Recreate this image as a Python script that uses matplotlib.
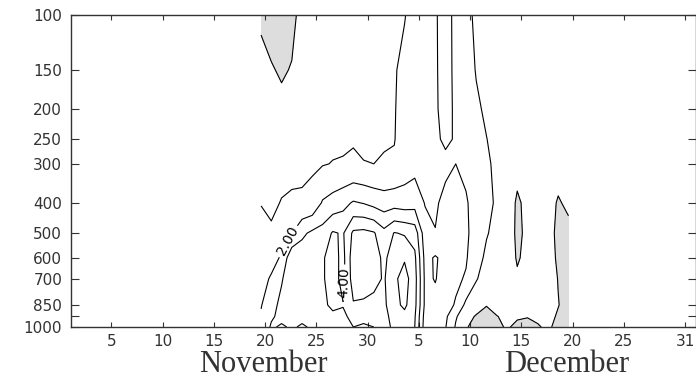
import numpy as np
import matplotlib.pyplot as plt
from matplotlib.ticker import NullLocator

# pressure levels (hPa) and analysis times (days, 1 = 1 Nov)
pres = [100, 150, 200, 250, 300, 400, 500, 600, 700, 850, 925, 1000]
day = 19.6 + np.arange(31)

# field values on each level, 19.6 Nov ... 19.6 Dec
z100 = [-0.3, -0.6, -0.8, -0.4, 0.5, 0.55, 0.6, 0.6, 0.6, 0.6, 0.6, 0.6, 0.6, 0.8, 0.95, 1.4,
        1.5, 1.85, 2.6, 1.6, 1.3, 0.8, 0.5, 0.5, 0.5, 0.5, 0.5, 0.5, 0.5, 0.5, 0.5]
z150 = [0.64, 0.13, -0.2, 0.1, 0.55, 0.6, 0.6, 0.65, 0.7, 0.7, 0.7, 0.7, 0.7, 0.9, 1.3, 1.5,
        1.55, 1.85, 2.5, 1.7, 1.4, 0.95, 0.7, 0.55, 0.5, 0.5, 0.5, 0.5, 0.5, 0.5, 0.5]
z200 = [0.6, 0.5, 0.47, 0.5, 0.6, 0.65, 0.65, 0.7, 0.8, 0.8, 0.8, 0.8, 0.8, 0.95, 1.3, 1.5,
        1.6, 1.85, 2.4, 1.8, 1.5, 1.15, 0.85, 0.6, 0.55, 0.5, 0.5, 0.55, 0.5, 0.5, 0.5]
z250 = [0.5, 0.55, 0.6, 0.6, 0.65, 0.75, 0.8, 0.85, 0.9, 0.95, 0.9, 0.9, 0.95, 0.97, 1.35, 1.55,
        1.6, 1.8, 2.2, 1.9, 1.6, 1.3, 1.02, 0.7, 0.6, 0.45, 0.5, 0.6, 0.5, 0.45, 0.5]
z300 = [0.6, 0.6, 0.7, 0.75, 0.8, 0.9, 0.95, 1.03, 1.05, 1.1, 1.02, 1.0, 1.05, 1.1, 1.5, 1.7,
        1.7, 1.75, 1.7, 2.0, 1.8, 1.4, 1.15, 0.8, 0.6, 0.3, 0.5, 0.6, 0.5, 0.4, 0.45]
z400 = [0.97, 0.8, 1.05, 1.15, 1.15, 1.25, 2.1, 2.4, 2.7, 3.1, 2.95, 2.7, 2.5, 2.6, 2.5, 2.6,
        1.95, 1.8, 2.4, 2.3, 2.1, 1.6, 1.2, 0.9, 0.6, -0.15, 0.25, 0.5, 0.4, -0.1, 0.2]
z500 = [1.3, 1.15, 1.5, 2.0, 2.8, 3.2, 3.4, 4.1, 3.9, 5.2, 5.3, 5.1, 4.3, 5.05, 4.9, 4.6,
        2.4, 2.05, 2.6, 2.5, 2.2, 1.5, 1.05, 0.8, 0.6, -0.2, 0.2, 0.5, 0.4, -0.25, -0.3]
z600 = [1.5, 1.7, 2.1, 3.8, 3.6, 3.7, 3.9, 4.4, 3.7, 5.6, 5.8, 5.4, 4.8, 5.5, 5.9, 5.2,
        2.7, 3.1, 2.7, 2.4, 2.1, 1.3, 0.85, 0.7, 0.6, -0.1, 0.25, 0.5, 0.4, -0.15, -0.4]
z700 = [1.7, 2.1, 2.9, 3.7, 3.8, 3.8, 3.9, 4.4, 3.7, 5.5, 5.6, 5.3, 4.9, 5.8, 6.4, 5.4,
        2.8, 3.05, 2.6, 2.2, 1.9, 1.05, 0.7, 0.6, 0.5, 0.15, 0.4, 0.5, 0.4, -0.03, -0.4]
z850 = [1.95, 2.6, 3.3, 3.5, 3.6, 3.7, 3.8, 4.2, 4.05, 4.9, 4.8, 4.7, 4.8, 5.7, 6.2, 5.3,
        2.8, 2.7, 2.4, 1.9, 0.75, 0.5, 0.05, 0.5, 0.4, 0.3, 0.4, 0.4, 0.3, 0.03, -0.3]
z925 = [2.1, 2.9, 3.2, 3.3, 3.2, 3.3, 3.5, 3.8, 3.8, 4.3, 4.2, 4.3, 4.6, 5.5, 5.7, 5.1,
        2.6, 2.5, 2.2, 1.1, 0.4, -0.1, -0.4, -0.05, 0.3, 0.15, 0.05, 0.2, 0.25, -0.1, -0.3]
z1000 = [2.4, 3.1, 2.9, 3.1, 2.9, 3.1, 3.2, 3.6, 3.5, 4.0, 3.9, 4.0, 4.5, 5.3, 5.4, 5.0,
         2.5, 2.4, 2.05, 0.9, 0.1, -0.4, -0.5, -0.3, 0.15, -0.3, -0.35, -0.1, 0.2, -0.35, -0.3]

ytick_vals = [100, 150, 200, 250, 300, 400, 500, 600, 700, 850, 925, 1000]
ytick_txt = ['100', '150', '200', '250', '300', '400', '500', '600', '700', '850', '', '1000']
xtick_vals = [5, 10, 15, 20, 25, 30, 35, 40, 45, 50, 55, 61]
xtick_txt = ['5', '10', '15', '20', '25', '30', '5', '10', '15', '20', '25', '31']
months = ['November', 'December']
month_pos = [19.8, 49.4]

Z = np.array([z100, z150, z200, z250, z300, z400, z500, z600, z700, z850, z925, z1000])

fig = plt.figure(figsize=(6.96, 3.78), dpi=100)
ax = fig.add_axes([0.1013, 0.1349, 0.898, 0.8254])
ax.set_yscale('log')
ax.set_ylim(1000, 100)
ax.set_xlim(1, 62)

# negative values shaded, contour every 1 unit (2 and 4 labelled)
ax.contourf(day, pres, Z, levels=[-10, 0], colors=['#dddddd'])
ax.contour(day, pres, Z, levels=[0, 1, 3, 5, 6], colors='k', linewidths=0.8)
cs = ax.contour(day, pres, Z, levels=[2, 4], colors='k', linewidths=0.8)
ax.clabel(cs, manual=[(22.2, 530), (27.8, 720)], fmt='%.2f',
          fontsize=10, inline=True, inline_spacing=3)

ax.set_yticks(ytick_vals)
ax.set_yticklabels(ytick_txt)
ax.yaxis.set_minor_locator(NullLocator())
ax.set_xticks(xtick_vals)
ax.set_xticklabels(xtick_txt)

ax.tick_params(axis='y', direction='in', length=6, width=0.8, right=True,
               colors='#333333', labelsize=11, pad=6)
ax.tick_params(axis='x', direction='in', length=3.6, width=0.8, top=True,
               colors='#333333', labelsize=11, pad=5)
for s in ax.spines.values():
    s.set_color('#333333')
    s.set_linewidth(1.0)

for m, x in zip(months, month_pos):
    ax.text(x, -0.144, m, transform=ax.get_xaxis_transform(), ha='center', va='baseline',
            fontsize=22, family='Liberation Serif', color='#333333')

fig.savefig('out.png', dpi=100)
